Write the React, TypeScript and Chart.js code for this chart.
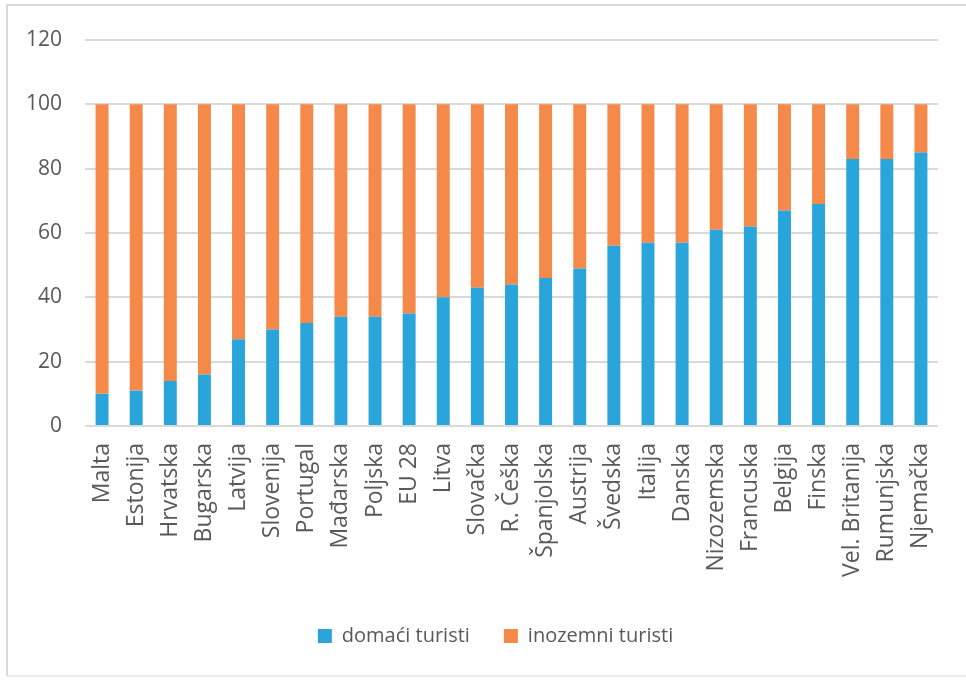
import React, { useEffect, useRef } from "react";
import { Chart, registerables } from "chart.js";

Chart.register(...registerables);

const categories = [
  "Malta", "Estonija", "Hrvatska", "Bugarska", "Latvija", "Slovenija", "Portugal",
  "Mađarska", "Poljska", "EU 28", "Litva", "Slovačka", "R. Češka", "Španjolska",
  "Austrija", "Švedska", "Italija", "Danska", "Nizozemska", "Francuska", "Belgija",
  "Finska", "Vel. Britanija", "Rumunjska", "Njemačka",
];

const domaci = [10, 11, 14, 16, 27, 30, 32, 34, 34, 35, 40, 43, 44, 46, 49, 56, 57, 57, 61, 62, 67, 69, 83, 83, 85];
const inozemni = [90, 89, 86, 84, 73, 70, 68, 66, 66, 65, 60, 57, 56, 54, 51, 44, 43, 43, 39, 38, 33, 31, 17, 17, 15];

const yTicks = [0, 20, 40, 60, 80, 100, 120];

const seriesNames = ["domaći turisti", "inozemni turisti"];
const BLUE = "#29a5db";
const ORANGE = "#f4894a";

const legendShift = {
  id: "legendShift",
  afterLayout(chart: any) {
    if (chart.legend) {
      chart.legend.left -= 16;
      chart.legend.right -= 16;
    }
  },
};

export default function App() {
  const ref = useRef<HTMLCanvasElement | null>(null);

  useEffect(() => {
    if (!ref.current) return;
    const chart = new Chart(ref.current, {
      type: "bar",
      data: {
        labels: categories,
        datasets: [
          { label: seriesNames[0], data: domaci, backgroundColor: BLUE, borderWidth: 0, barPercentage: 0.475, categoryPercentage: 0.8 },
          { label: seriesNames[1], data: inozemni, backgroundColor: ORANGE, borderWidth: 0, barPercentage: 0.475, categoryPercentage: 0.8 },
        ],
      },
      plugins: [legendShift],
      options: {
        animation: false,
        responsive: false,
        maintainAspectRatio: false,
        layout: { padding: { left: 0, right: 23, top: 40, bottom: 24 } },
        plugins: {
          tooltip: { enabled: false },
          legend: {
            position: "bottom",
            fullSize: false,
            labels: {
              boxWidth: 14,
              boxHeight: 14,
              padding: 34,
              color: "#595959",
              font: { family: "'Open Sans'", size: 20 },
            },
          },
        },
        scales: {
          x: {
            stacked: true,
            grid: { display: false, drawTicks: false },
            border: { display: false },
            ticks: {
              autoSkip: false,
              maxRotation: 90,
              minRotation: 90,
              padding: 17,
              color: "#595959",
              font: { family: "'Open Sans'", size: 23 },
            },
            afterFit: (s: any) => { s.height = 166; },
          },
          y: {
            stacked: true,
            min: 0,
            max: 120,
            afterBuildTicks: (s: any) => { s.ticks = yTicks.map((v) => ({ value: v })); },
            grid: { color: "#d9d9d9", lineWidth: 2, drawTicks: false },
            border: { display: false },
            ticks: {
              padding: 23,
              color: "#595959",
              font: { family: "'Open Sans'", size: 21 },
            },
            afterFit: (s: any) => { s.width = 85; },
          },
        },
      },
    });
    return () => chart.destroy();
  }, []);

  return (
    <div style={{ position: "fixed", left: 0, top: 0, width: 966, height: 680, background: "#fff", overflow: "hidden" }}>
      <div style={{ position: "absolute", left: 6, top: 4, width: 980, height: 673, border: "2px solid #d9d9d9", borderBottomColor: "#ececec", boxSizing: "border-box" }} />
      <canvas ref={ref} width={966} height={680} style={{ position: "absolute", left: 0, top: 0, width: 966, height: 680 }} />
    </div>
  );
}
